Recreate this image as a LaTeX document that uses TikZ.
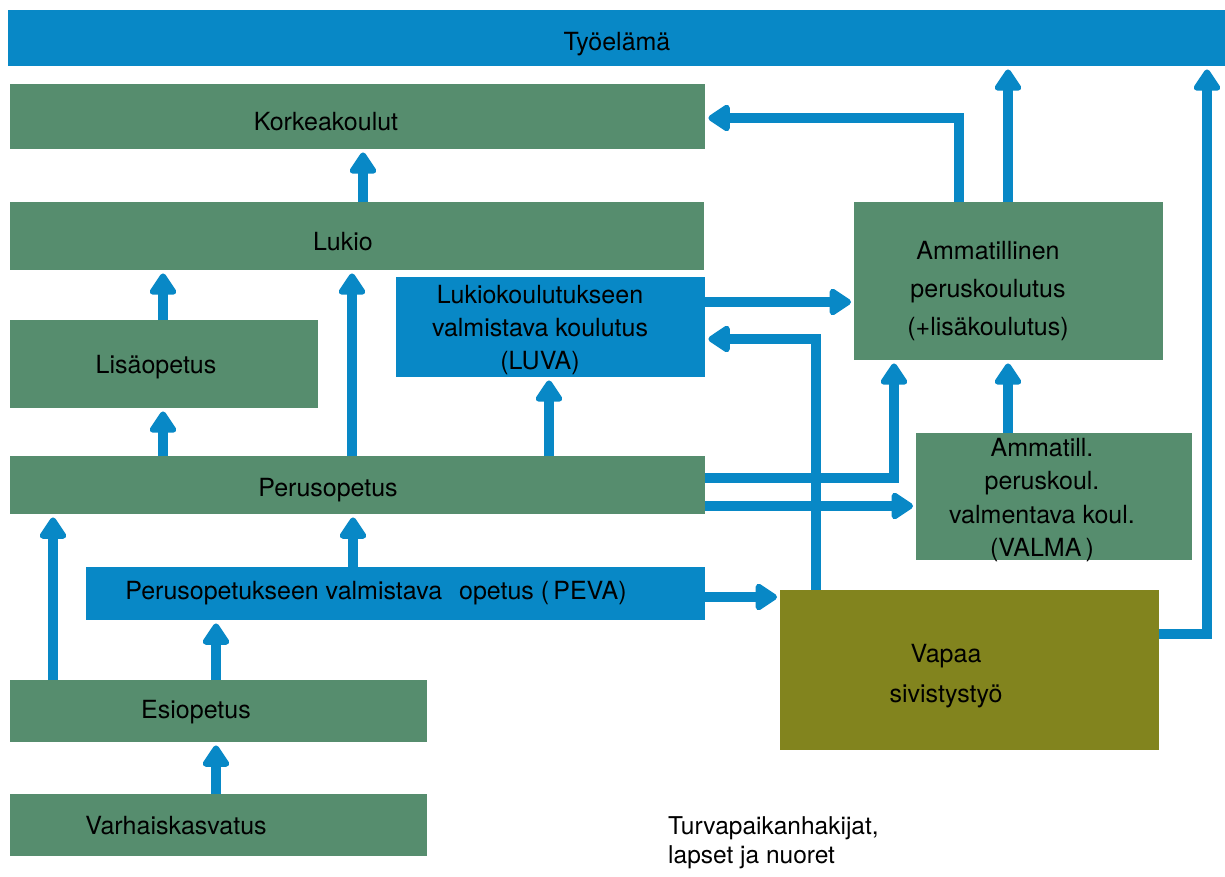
\documentclass[tikz,border=0pt]{standalone}
\usepackage{fontspec}
\setmainfont{TeX Gyre Heros}
\usetikzlibrary{arrows.meta}
\definecolor{gr}{HTML}{568D6E}
\definecolor{bl}{HTML}{0888C6}
\definecolor{ol}{HTML}{82841E}
\tikzset{
  box/.style={draw=none, inner sep=0pt, anchor=north west},
  gbox/.style={box, fill=gr},
  bbox/.style={box, fill=bl},
  obox/.style={box, fill=ol},
  lbl/.style={font=\fontsize{25}{33}\selectfont, align=center, text=black, inner sep=0pt},
  flow/.style={draw=bl, line width=10pt, line cap=butt,
    -{Triangle[width=30pt,length=24pt,round]}, shorten >=3pt}
}
\begin{document}
\begin{tikzpicture}[x=1pt,y=-1pt]
\useasboundingbox (0,0) rectangle (1225,876);
% boxes
\node[bbox, minimum width=1217pt, minimum height=56pt] (tyo) at (8,10) {};
\node[gbox, minimum width=695pt, minimum height=65pt] (kork) at (10,84) {};
\node[gbox, minimum width=694pt, minimum height=68pt] (lukio) at (10,202) {};
\node[gbox, minimum width=308pt, minimum height=88pt] (lisa) at (10,320) {};
\node[bbox, minimum width=309pt, minimum height=100pt] (luva) at (396,277) {};
\node[gbox, minimum width=695pt, minimum height=58pt] (perus) at (10,456) {};
\node[bbox, minimum width=619pt, minimum height=53pt] (peva) at (86,567) {};
\node[gbox, minimum width=417pt, minimum height=62pt] (esi) at (10,680) {};
\node[gbox, minimum width=417pt, minimum height=62pt] (varh) at (10,794) {};
\node[gbox, minimum width=309pt, minimum height=158pt] (amm) at (854,202) {};
\node[gbox, minimum width=276pt, minimum height=127pt] (valma) at (916,433) {};
\node[obox, minimum width=379pt, minimum height=160pt] (vapaa) at (780,590) {};
% texts
\node[lbl] (ttyo) at (617,44) {Työelämä};
\node[lbl] (tkork) at (326,122) {Korkeakoulut};
\node[lbl] (tlukio) at (343,242) {Lukio};
\node[lbl] (tlisa) at (156,367) {Lisäopetus};
\node[lbl] (tluva) at (540,330) {Lukiokoulutukseen\\valmistava koulutus\\(LUVA)};
\node[lbl] (tperus) at (328,490) {Perusopetus};
\node[lbl] (tpeva) at (376,593) {Perusopetukseen valmistava\hspace{10pt} opetus (\,PEVA)};
\node[lbl] (tesi) at (196,712) {Esiopetus};
\node[lbl] (tvarh) at (176,826) {Varhaiskasvatus};
\node[lbl, font=\fontsize{25}{38}\selectfont] (tamm) at (988,291) {Ammatillinen\\peruskoulutus\\(+lisäkoulutus)};
\node[lbl, font=\fontsize{25}{33.5}\selectfont] (tvalma) at (1042,500) {Ammatill.\\peruskoul.\\valmentava koul.\\(VALMA\,)};
\node[lbl, font=\fontsize{25}{40}\selectfont] (tvapaa) at (946,676) {Vapaa\\sivistystyö};
\node[lbl, align=left, anchor=west, font=\fontsize{24.5}{29}\selectfont] (tturva) at (668,843) {Turvapaikanhakijat,\\lapset ja nuoret};
% arrows
\draw[flow] (363,0 |- lukio.north) -- (363,0 |- kork.south);
\draw[flow] (163,0 |- lisa.north) -- (163,0 |- lukio.south);
\draw[flow] (163,0 |- perus.north) -- (163,0 |- lisa.south);
\draw[flow] (352,0 |- perus.north) -- (352,0 |- lukio.south);
\draw[flow] (549,0 |- perus.north) -- (549,0 |- luva.south);
\draw[flow] (353,0 |- peva.north) -- (353,0 |- perus.south);
\draw[flow] (53,0 |- esi.north) -- (53,0 |- perus.south);
\draw[flow] (216,0 |- esi.north) -- (216,0 |- peva.south);
\draw[flow] (216,0 |- varh.north) -- (216,0 |- esi.south);
\draw[flow] (luva.east |- 0,302) -- (amm.west |- 0,302);
\draw[flow] (816,0 |- vapaa.north) -- (816,339) -- (luva.east |- 0,339);
\draw[flow] (perus.east |- 0,478) -- (894,478) -- (894,0 |- amm.south);
\draw[flow] (perus.east |- 0,506) -- (valma.west |- 0,506);
\draw[flow] (peva.east |- 0,597) -- (vapaa.west |- 0,597);
\draw[flow] (1008,0 |- valma.north) -- (1008,0 |- amm.south);
\draw[flow] (959,0 |- amm.north) -- (959,118) -- (kork.east |- 0,118);
\draw[flow] (1008,0 |- amm.north) -- (1008,0 |- tyo.south);
\draw[flow] (vapaa.east |- 0,634) -- (1207,634) -- (1207,0 |- tyo.south);
\end{tikzpicture}
\end{document}
